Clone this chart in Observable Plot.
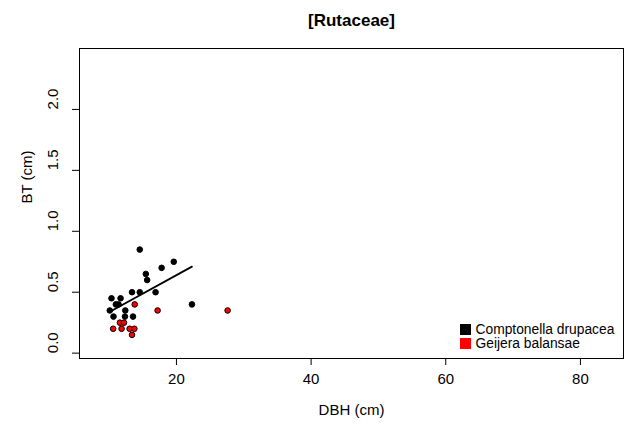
<!DOCTYPE html>
<html>
<head>
<meta charset="utf-8">
<script src="https://cdn.jsdelivr.net/npm/d3@7"></script>
<script src="https://cdn.jsdelivr.net/npm/@observablehq/plot@0.6"></script>
<style>
  html, body { margin: 0; padding: 0; background: #fff; }
  svg { font-family: "Liberation Sans", Arial, sans-serif; }
</style>
</head>
<body>
<div id="chart"></div>
<script>
const title = "[Rutaceae]";
const xLabel = "DBH (cm)";
const yLabel = "BT (cm)";
const speciesNames = ["Comptonella drupacea", "Geijera balansae"];
const speciesColors = ["#000000", "#ff0000"];

const comptonellaDBH = [14.55, 17.8, 19.6, 15.45, 15.65, 13.4, 14.55, 16.9, 10.35, 11.7, 11.0, 11.4, 10.1, 12.4, 10.65, 12.35, 13.55, 22.3];
const comptonellaBT  = [0.85, 0.70, 0.75, 0.65, 0.60, 0.50, 0.50, 0.50, 0.45, 0.45, 0.40, 0.40, 0.35, 0.35, 0.30, 0.30, 0.30, 0.40];

const geijeraDBH = [13.8, 17.2, 27.6, 11.6, 12.2, 10.6, 11.85, 13.05, 13.75, 13.4];
const geijeraBT  = [0.40, 0.35, 0.35, 0.25, 0.25, 0.20, 0.20, 0.20, 0.20, 0.15];

// fitted line for Comptonella drupacea
const fitDBH = [10.45, 22.3];
const fitBT  = [0.35, 0.71];

const xTicks = [20, 40, 60, 80];
const yTicks = [0, 0.5, 1.0, 1.5, 2.0];

const points = [
  ...comptonellaDBH.map((d, i) => ({dbh: d, bt: comptonellaBT[i], sp: speciesNames[0]})),
  ...geijeraDBH.map((d, i) => ({dbh: d, bt: geijeraBT[i], sp: speciesNames[1]}))
];
const fit = fitDBH.map((d, i) => ({dbh: d, bt: fitBT[i]}));

const chart = Plot.plot({
  width: 629,
  height: 426,
  marginLeft: 79,
  marginRight: 6,
  marginTop: 48,
  marginBottom: 68,
  style: {fontFamily: "Liberation Sans, Arial, sans-serif", background: "#fff", color: "#000"},
  x: {domain: [5.6, 86.4]},
  y: {domain: [-0.044, 2.50]},
  color: {domain: speciesNames, range: speciesColors},
  marks: [
    Plot.frame({stroke: "#000", strokeWidth: 1}),
    Plot.axisX({ticks: xTicks, tickSize: 7, tickPadding: 8, fontSize: 15, label: null, stroke: "#000"}),
    Plot.axisY({ticks: yTicks, tickSize: 7, tickFormat: () => "", label: null, stroke: "#000"}),
    Plot.text(yTicks, {y: d => d, frameAnchor: "left", lineAnchor: "middle", text: d => d.toFixed(1), rotate: -90, dx: -26, fontSize: 15, fill: "#000"}),
    Plot.text([xLabel], {frameAnchor: "bottom", lineAnchor: "middle", dy: 52, fontSize: 15, fill: "#000"}),
    Plot.text([yLabel], {frameAnchor: "left", lineAnchor: "middle", dx: -52, rotate: -90, fontSize: 15, fill: "#000"}),
    Plot.text([title], {frameAnchor: "top", lineAnchor: "middle", dy: -28, fontSize: 17, fontWeight: "bold", fill: "#000"}),
    Plot.line(fit, {x: "dbh", y: "bt", stroke: "#000", strokeWidth: 1.8}),
    Plot.dot(points, {x: "dbh", y: "bt", fill: "sp", stroke: "#000", strokeWidth: 1, r: 2.8}),
    // legend
    Plot.dot([speciesNames[0]], {frameAnchor: "bottom-right", dx: -158, dy: -29, symbol: "square", r: 6.2, fill: speciesColors[0]}),
    Plot.dot([speciesNames[1]], {frameAnchor: "bottom-right", dx: -158, dy: -15, symbol: "square", r: 6.2, fill: speciesColors[1]}),
    Plot.text([speciesNames[0]], {frameAnchor: "bottom-right", lineAnchor: "middle", dx: -148, dy: -29, textAnchor: "start", fontSize: 13.8, fill: "#000"}),
    Plot.text([speciesNames[1]], {frameAnchor: "bottom-right", lineAnchor: "middle", dx: -148, dy: -15, textAnchor: "start", fontSize: 13.8, fill: "#000"})
  ]
});
document.getElementById("chart").appendChild(chart);
</script>
</body>
</html>
